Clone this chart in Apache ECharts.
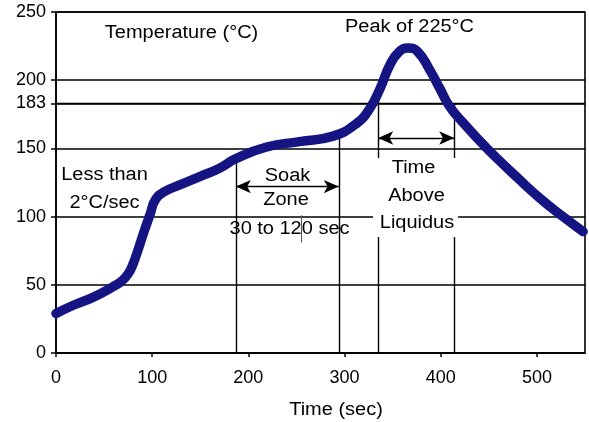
<!DOCTYPE html>
<html>
<head>
<meta charset="utf-8">
<script src="https://cdn.jsdelivr.net/npm/echarts@6/dist/echarts.min.js"></script>
<style>html,body{margin:0;padding:0;background:#fff}#c{width:589px;height:422px}</style>
</head>
<body>
<div id="c"></div>
<script>
// ---- data ----
var timeSec = [0, 18, 39, 59, 68, 75, 80, 85, 92, 98, 103, 112, 128, 150, 170, 187, 219, 253, 288, 312, 326, 337, 347, 357, 366, 376, 389, 399, 409, 423, 444, 458, 479, 503, 527, 548];
var tempC   = [29, 35, 41, 48.5, 52.5, 58, 65, 75, 90, 102, 112, 118, 123, 129.5, 135.5, 142.5, 151, 155, 159, 168, 179, 194, 211, 221, 223.6, 221, 207, 194, 181, 169, 153, 143, 129, 113.5, 100, 89];
var yTicks = [0, 50, 100, 150, 183, 200, 250];
var xTicks = [0, 100, 200, 300, 400, 500];
var liquidusTemp = 183;
var soakStart = 187, soakEnd = 294, soakArrowY = 122;
var soakStartTop = 143, soakEndTop = 158;
var liqStart = 335, liqEnd = 414, liqArrowY = 157.6;
var liqStartTop = 188, liqEndTop = 183;

var curve = timeSec.map(function (t, i) { return [t, tempC[i]]; });

var black = '#000';
var font = 'Liberation Sans, Arial, sans-serif';
var fs = 18;
var sx = 1.11;

function vline(x, top) {
  return [{ coord: [x, 0] }, { coord: [x, top] }];
}
function txt(s, x, y, z) {
  return { type: 'text', z: z == null ? 101 : z, x: x, y: y, scaleX: sx, scaleY: 1,
    style: { text: s, fill: black, font: fs + 'px ' + font, textAlign: 'center', textVerticalAlign: 'middle' } };
}
var arrowEnd = { symbol: 'arrow', symbolSize: [10, 15] };

var chart = echarts.init(document.getElementById('c'), null, { renderer: 'canvas' });
chart.setOption({
  animation: false,
  backgroundColor: '#fff',
  grid: { left: 56, right: 4, top: 12, bottom: 69, show: true, borderColor: black, borderWidth: 1.6, backgroundColor: 'transparent' },
  xAxis: {
    type: 'value', min: 0, max: 550, interval: 100,
    axisLine: { show: true, lineStyle: { color: black, width: 1.6 } },
    axisTick: { show: true, length: 4, inside: false, customValues: xTicks, lineStyle: { color: black, width: 1.5 } },
    axisLabel: { customValues: xTicks, margin: 16, color: black, fontSize: fs, fontFamily: font },
    splitLine: { show: false }
  },
  yAxis: {
    type: 'value', min: 0, max: 250, interval: 50,
    axisLine: { show: true, lineStyle: { color: black, width: 1.6 } },
    axisTick: { show: true, length: 5, customValues: yTicks, lineStyle: { color: black, width: 1.5 } },
    axisLabel: { customValues: yTicks, margin: 10, color: black, fontSize: fs, fontFamily: font },
    splitLine: { show: true, lineStyle: { color: black, width: 1.6 } }
  },
  series: [
    {
      type: 'line', data: [], z: 1, silent: true,
      markLine: {
        silent: true, animation: false,
        symbol: ['none', 'none'],
        label: { show: false },
        lineStyle: { color: black, width: 1.4, type: 'solid' },
        data: [
          [{ coord: [0, liquidusTemp] }, { coord: [550, liquidusTemp] }],
          vline(soakStart, soakStartTop),
          vline(soakEnd, soakEndTop),
          vline(liqStart, liqStartTop),
          vline(liqEnd, liqEndTop),
          [{ coord: [255, 81], lineStyle: { color: '#555', width: 1 } }, { coord: [255, 101] }],
          [Object.assign({ coord: [soakStart, soakArrowY] }, arrowEnd), Object.assign({ coord: [soakEnd, soakArrowY] }, arrowEnd)],
          [Object.assign({ coord: [liqStart, liqArrowY] }, arrowEnd), Object.assign({ coord: [liqEnd, liqArrowY] }, arrowEnd)]
        ]
      }
    },
    {
      type: 'line', data: curve, z: 5, smooth: 0.5, showSymbol: false, symbol: 'none', silent: true,
      lineStyle: { color: '#141482', width: 9.5, cap: 'round', join: 'round' }
    }
  ],
  graphic: [
    { type: 'rect', z: 100, shape: { x: 373, y: 158, width: 85, height: 79 }, style: { fill: '#fff' } },
    txt('Temperature (°C)', 181.5, 33),
    txt('Peak of 225°C', 409.5, 27),
    txt('Less than', 104.5, 175.5),
    txt('2°C/sec', 104.5, 203.5),
    txt('Soak', 287.5, 176),
    txt('Zone', 286, 200),
    txt('30 to 120 sec', 289.5, 229, 0),
    txt('Time', 413.5, 168),
    txt('Above', 416.5, 196),
    txt('Liquidus', 417, 223),
    txt('Time (sec)', 336, 410)
  ]
});
</script>
</body>
</html>
